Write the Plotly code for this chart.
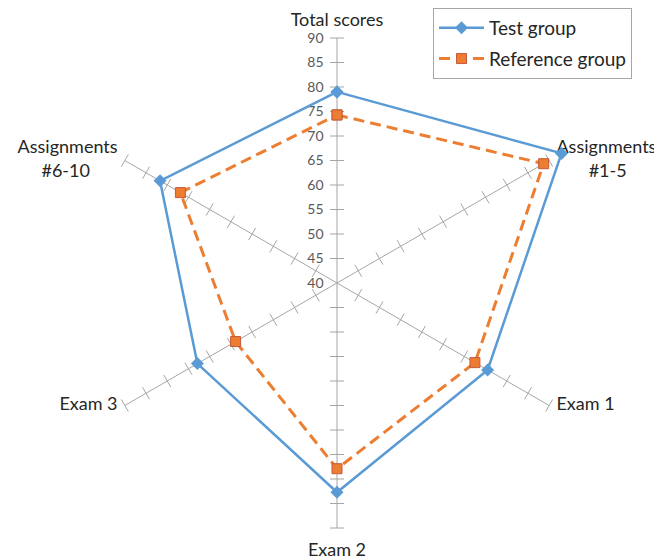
import plotly.graph_objects as go

categories = ["Total scores", "Assignments #1-5", "Exam 1", "Exam 2", "Exam 3", "Assignments #6-10"]
category_labels = ["Total scores",
                   "Assignments<br>" + "\u00a0" * 7 + "#1-5",
                   "Exam 1", "Exam 2", "Exam 3",
                   "Assignments<br>#6-10" + "\u00a0" * 6]
test_group = [79.0, 92.9, 75.5, 82.7, 72.9, 81.7]
reference_group = [74.3, 88.7, 72.5, 77.9, 63.9, 76.9]
radial_ticks = [40, 45, 50, 55, 60, 65, 70, 75, 80, 85, 90]

GRID = "#a6a6a6"
BLUE = "#5B9BD5"
ORANGE = "#ED7D31"
TEXT = "#262626"

# the page body has an 8px margin: work in figure pixels = screen pixels - 8
OFF = 8
W, H = 662 - OFF, 560 - OFF
CX, CY = 337 - OFF, 283 - OFF
R_AX = 245                      # pixel radius of value 90
RMIN, RMAX1, RMAX2 = 40, 90, 95
R_DATA = R_AX * (RMAX2 - RMIN) / (RMAX1 - RMIN)


def dom(radius):
    return dict(x=[(CX - radius) / W, (CX + radius) / W],
                y=[1 - (CY + radius) / H, 1 - (CY - radius) / H])


fig = go.Figure()

# spokes (one per category) from centre to the top of the scale
sp_r, sp_t = [], []
for c in categories:
    sp_r += [RMIN, RMAX1, None]
    sp_t += [c, c, c]
fig.add_trace(go.Scatterpolar(
    r=sp_r, theta=sp_t, mode="lines", showlegend=False, hoverinfo="skip",
    connectgaps=False, cliponaxis=False, subplot="polar",
    line=dict(color=GRID, width=1),
))

# tick marks crossing every spoke
tick_r, tick_theta, tick_angle = [], [], []
for i, c in enumerate(categories):
    for v in radial_ticks[1:]:
        tick_r.append(v)
        tick_theta.append(c)
        tick_angle.append(60 * i)
fig.add_trace(go.Scatterpolar(
    r=tick_r, theta=tick_theta, mode="markers", showlegend=False, hoverinfo="skip",
    cliponaxis=False, subplot="polar",
    marker=dict(symbol="line-ew", size=10, angle=tick_angle, color=GRID,
                line=dict(color=GRID, width=1)),
))

# category labels at the end of each spoke
label_pos, label_pad = [], []
for i in range(len(categories)):
    if i == 0:
        label_pos.append("top center"); label_pad.append(11)
    elif i == 3:
        label_pos.append("bottom center"); label_pad.append(22)
    elif i in (1, 2):
        label_pos.append("middle right"); label_pad.append(10)
    else:
        label_pos.append("middle left"); label_pad.append(10)
fig.add_trace(go.Scatterpolar(
    r=[RMAX1] * len(categories), theta=categories, text=category_labels,
    mode="markers+text", textposition=label_pos, showlegend=False, hoverinfo="skip",
    cliponaxis=False, subplot="polar2",
    marker=dict(size=label_pad, opacity=0, color="white"),
    textfont=dict(size=18, color=TEXT),
))

fig.add_trace(go.Scatterpolar(
    r=test_group + test_group[:1], theta=categories + categories[:1],
    mode="lines+markers", name="Test group", cliponaxis=False, subplot="polar2",
    legendgroup="a",
    line=dict(color=BLUE, width=2.5),
    marker=dict(symbol="diamond", size=10, color=BLUE),
))
fig.add_trace(go.Scatterpolar(
    r=reference_group + reference_group[:1], theta=categories + categories[:1],
    mode="lines+markers", name="Reference group", cliponaxis=False, subplot="polar2",
    legendgroup="b",
    line=dict(color=ORANGE, width=3, dash="11px,6px"),
    marker=dict(symbol="square", size=10, color=ORANGE, line=dict(color="#C55A3C", width=1)),
))

fig.update_layout(
    width=W, height=H,
    margin=dict(l=0, r=0, t=0, b=0),
    paper_bgcolor="white", plot_bgcolor="white",
    font=dict(family="Lato, Carlito, sans-serif", size=19, color=TEXT),
    polar=dict(
        domain=dom(R_AX),
        bgcolor="rgba(0,0,0,0)",
        radialaxis=dict(
            range=[RMIN, RMAX1], tickvals=radial_ticks, angle=90, side="counterclockwise",
            tickangle=90, showgrid=False, showline=False,
            ticks="outside", ticklen=8, tickcolor="rgba(0,0,0,0)",
            tickfont=dict(size=14, color="#595959"),
        ),
        angularaxis=dict(
            direction="clockwise", rotation=90,
            showline=False, showgrid=False, showticklabels=False, ticks="",
        ),
    ),
    polar2=dict(
        domain=dom(R_DATA),
        bgcolor="rgba(0,0,0,0)",
        radialaxis=dict(range=[RMIN, RMAX2], visible=False, showgrid=False),
        angularaxis=dict(direction="clockwise", rotation=90, showgrid=False,
                         showline=False, showticklabels=False, ticks=""),
    ),
    legend=dict(
        x=(433 - OFF) / W, y=1 - (8 - OFF) / H, xanchor="left", yanchor="top",
        bordercolor=GRID, borderwidth=1, bgcolor="white", tracegroupgap=3,
        itemwidth=45, font=dict(size=19, color=TEXT),
    ),
)

fig.write_html("out.html")
